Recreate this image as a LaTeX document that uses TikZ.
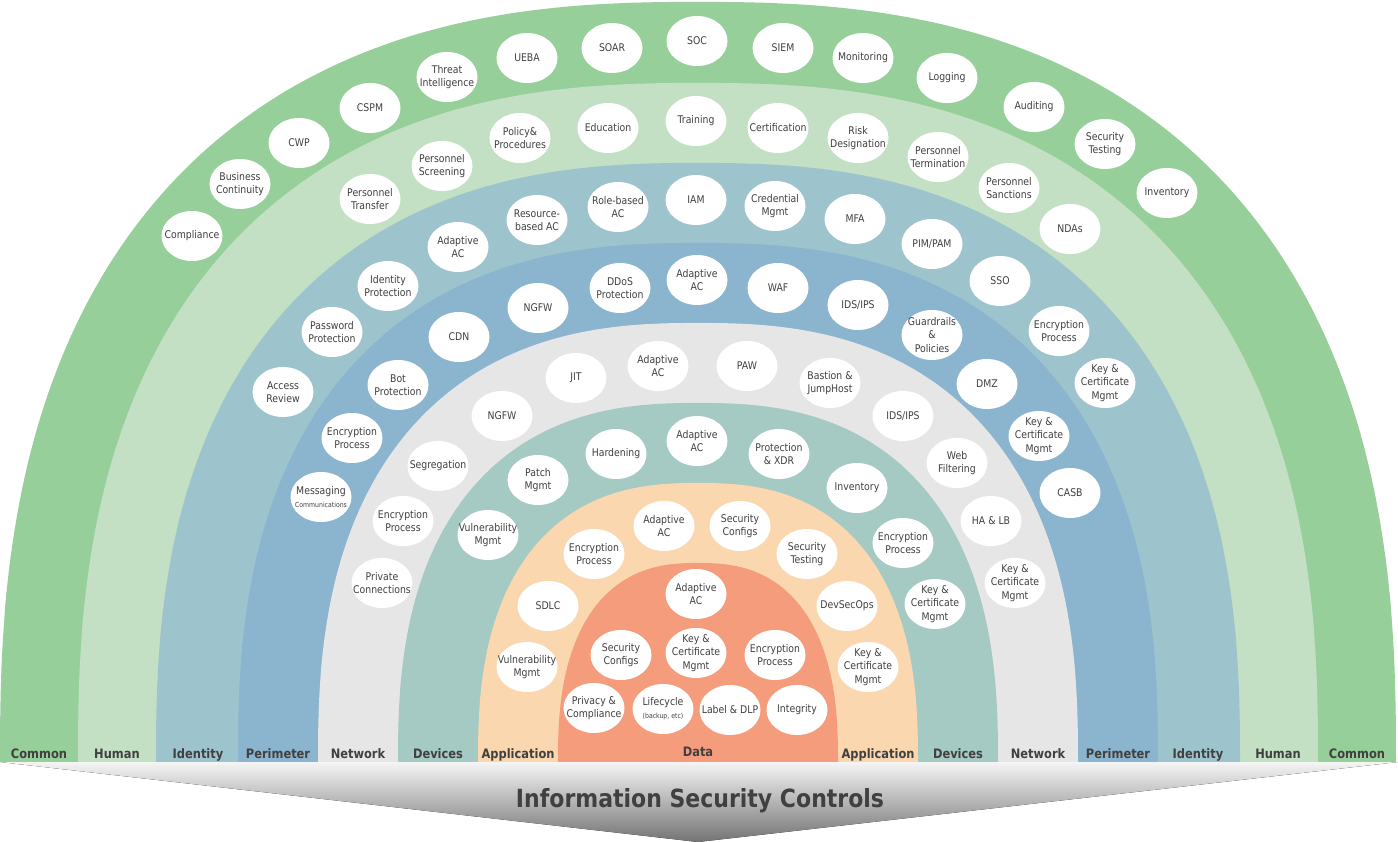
\documentclass[tikz,border=0pt]{standalone}
\usepackage{fontspec}
\setmainfont{DejaVu Sans}[FakeStretch=0.88]
\usetikzlibrary{shapes.geometric}
\definecolor{cCom}{RGB}{150,207,153}
\definecolor{cHum}{RGB}{195,224,196}
\definecolor{cIde}{RGB}{157,195,204}
\definecolor{cPer}{RGB}{139,180,206}
\definecolor{cNet}{RGB}{230,230,230}
\definecolor{cDev}{RGB}{165,201,195}
\definecolor{cApp}{RGB}{250,215,175}
\definecolor{cDat}{RGB}{244,156,123}
\definecolor{txt}{RGB}{64,64,64}
\tikzset{
  ctl/.style={ellipse, fill=white, minimum width=61pt, minimum height=50pt,
    inner xsep=-10pt, inner ysep=-4pt, align=center, text=txt, font=\fontsize{10.6}{13.2}\selectfont},
  bandlabel/.style={font=\bfseries\fontsize{13}{15}\selectfont, text=txt,
    inner sep=0pt, anchor=base},
}
\newcommand{\smalltxt}[1]{{\fontsize{7}{8.5}\selectfont #1}}
\begin{document}
\begin{tikzpicture}[x=1pt,y=-1pt]
\useasboundingbox (0,0) rectangle (1398,842);
\fill[white] (0,0) rectangle (1398,842);
% bands (superellipses centred at bottom)
\foreach \ra/\rb/\col in {698/760/cCom, 620/679/cHum, 542/599/cIde, 460/519/cPer,
    380/439/cNet, 300/359/cDev, 220/279/cApp, 140/199/cDat} {
  \fill[\col] plot[domain=0:180, samples=181, variable=\t]
    ({698+\ra*cos(\t)*pow(abs(cos(\t))+0.00001,-0.2)},
     {762-\rb*pow(abs(sin(\t))+0.00001,0.8)}) -- cycle;
}
% banner
\fill[top color={rgb,255:red,245;green,245;blue,245}, bottom color={rgb,255:red,115;green,115;blue,115}]
  (0,762) -- (1398,762) -- (698,842) -- cycle;
\node[font=\bfseries\fontsize{25}{30}\selectfont, text=txt, anchor=base] (title) at (700,807) {Information Security Controls};
% band labels
\node[bandlabel] (lb1) at (39,758) {Common};
\node[bandlabel] (lb2) at (117,758) {Human};
\node[bandlabel] (lb3) at (198,758) {Identity};
\node[bandlabel] (lb4) at (278,758) {Perimeter};
\node[bandlabel] (lb5) at (358,758) {Network};
\node[bandlabel] (lb6) at (438,758) {Devices};
\node[bandlabel] (lb7) at (518,758) {Application};
\node[bandlabel] (lb8) at (698,756) {Data};
\node[bandlabel] (lb9) at (878,758) {Application};
\node[bandlabel] (lb10) at (958,758) {Devices};
\node[bandlabel] (lb11) at (1038,758) {Network};
\node[bandlabel] (lb12) at (1118,758) {Perimeter};
\node[bandlabel] (lb13) at (1198,758) {Identity};
\node[bandlabel] (lb14) at (1278,758) {Human};
\node[bandlabel] (lb15) at (1357,758) {Common};
% Common
\node[ctl] (c1) at (192,236) {Compliance};
\node[ctl] (c2) at (240,184) {Business\\Continuity};
\node[ctl] (c3) at (299,143) {CWP};
\node[ctl] (c4) at (370,108) {CSPM};
\node[ctl] (c5) at (447,77) {Threat\\Intelligence};
\node[ctl] (c6) at (527,58) {UEBA};
\node[ctl] (c7) at (612,48) {SOAR};
\node[ctl] (c8) at (697,41) {SOC};
\node[ctl] (c9) at (783,48) {SIEM};
\node[ctl] (c10) at (863,58) {Monitoring};
\node[ctl] (c11) at (947,78) {Logging};
\node[ctl] (c12) at (1034,107) {Auditing};
\node[ctl] (c13) at (1105,144) {Security\\Testing};
\node[ctl] (c14) at (1167,193) {Inventory};
% Human
\node[ctl] (h1) at (370,199) {Personnel\\Transfer};
\node[ctl] (h2) at (442,166) {Personnel\\Screening};
\node[ctl] (h3) at (520,138) {Policy\&\\Procedures};
\node[ctl] (h4) at (608,128) {Education};
\node[ctl] (h5) at (696,121) {Training};
\node[ctl] (h6) at (778,128) {Certification};
\node[ctl] (h7) at (858,138) {Risk\\Designation};
\node[ctl] (h8) at (938,157) {Personnel\\Termination};
\node[ctl] (h9) at (1009,188) {Personnel\\Sanctions};
\node[ctl] (h10) at (1070,229) {NDAs};
% Identity
\node[ctl] (i1) at (283,392) {Access\\Review};
\node[ctl] (i2) at (332,332) {Password\\Protection};
\node[ctl] (i3) at (388,286) {Identity\\Protection};
\node[ctl] (i4) at (458,247) {Adaptive\\AC};
\node[ctl] (i5) at (537,220) {Resource-\\based AC};
\node[ctl] (i6) at (618,207) {Role-based\\AC};
\node[ctl] (i7) at (696,200) {IAM};
\node[ctl] (i8) at (775,206) {Credential\\Mgmt};
\node[ctl] (i9) at (855,219) {MFA};
\node[ctl] (i10) at (932,244) {PIM/PAM};
\node[ctl] (i11) at (1000,281) {SSO};
\node[ctl] (i12) at (1059,331) {Encryption\\Process};
\node[ctl] (i13) at (1105,383) {Key \&\\Certificate\\Mgmt};
% Perimeter
\node[ctl] (p1) at (321,497) {Messaging\\\smalltxt{Communications}};
\node[ctl] (p2) at (352,438) {Encryption\\Process};
\node[ctl] (p3) at (398,385) {Bot\\Protection};
\node[ctl] (p4) at (459,337) {CDN};
\node[ctl] (p5) at (538,308) {NGFW};
\node[ctl] (p6) at (620,288) {DDoS\\Protection};
\node[ctl] (p7) at (697,280) {Adaptive\\AC};
\node[ctl] (p8) at (778,288) {WAF};
\node[ctl] (p9) at (858,305) {IDS/IPS};
\node[ctl] (p10) at (932,335) {Guardrails\\\&\\Policies};
\node[ctl] (p11) at (987,384) {DMZ};
\node[ctl] (p12) at (1039,436) {Key \&\\Certificate\\Mgmt};
\node[ctl] (p13) at (1070,493) {CASB};
% Network
\node[ctl] (n1) at (382,583) {Private\\Connections};
\node[ctl] (n2) at (403,521) {Encryption\\Process};
\node[ctl] (n3) at (438,466) {Segregation};
\node[ctl] (n4) at (502,416) {NGFW};
\node[ctl] (n5) at (576,378) {JIT};
\node[ctl] (n6) at (658,366) {Adaptive\\AC};
\node[ctl] (n7) at (747,366) {PAW};
\node[ctl] (n8) at (830,383) {Bastion \&\\JumpHost};
\node[ctl] (n9) at (903,416) {IDS/IPS};
\node[ctl] (n10) at (957,463) {Web\\Filtering};
\node[ctl] (n11) at (991,521) {HA \& LB};
\node[ctl] (n12) at (1015,583) {Key \&\\Certificate\\Mgmt};
% Devices
\node[ctl] (d1) at (488,535) {Vulnerability\\Mgmt};
\node[ctl] (d2) at (538,480) {Patch\\Mgmt};
\node[ctl] (d3) at (616,454) {Hardening};
\node[ctl] (d4) at (697,441) {Adaptive\\AC};
\node[ctl] (d5) at (779,454) {Protection\\\& XDR};
\node[ctl] (d6) at (857,488) {Inventory};
\node[ctl] (d7) at (903,543) {Encryption\\Process};
\node[ctl] (d8) at (935,604) {Key \&\\Certificate\\Mgmt};
% Application
\node[ctl] (a1) at (527,667) {Vulnerability\\Mgmt};
\node[ctl] (a2) at (548,606) {SDLC};
\node[ctl] (a3) at (594,554) {Encryption\\Process};
\node[ctl] (a4) at (664,526) {Adaptive\\AC};
\node[ctl] (a5) at (740,526) {Security\\Configs};
\node[ctl] (a6) at (807,554) {Security\\Testing};
\node[ctl] (a7) at (847,606) {DevSecOps};
\node[ctl] (a8) at (868,667) {Key \&\\Certificate\\Mgmt};
% Data
\node[ctl] (x1) at (696,594) {Adaptive\\AC};
\node[ctl] (x2) at (621,655) {Security\\Configs};
\node[ctl] (x3) at (696,653) {Key \&\\Certificate\\Mgmt};
\node[ctl] (x4) at (775,655) {Encryption\\Process};
\node[ctl] (x5) at (594,708) {Privacy \&\\Compliance};
\node[ctl] (x6) at (663,709) {Lifecycle\\\smalltxt{(backup, etc)}};
\node[ctl] (x7) at (730,710) {Label \& DLP};
\node[ctl] (x8) at (797,710) {Integrity};
\end{tikzpicture}
\end{document}
